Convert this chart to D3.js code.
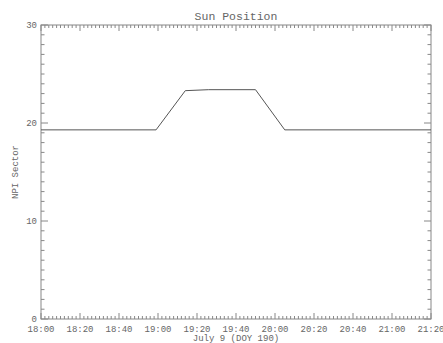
<!DOCTYPE html>
<html>
<head>
<meta charset="utf-8">
<script src="https://cdn.jsdelivr.net/npm/d3@7"></script>
<style>
  body { margin: 0; background: #fff; }
  text { font-family: "Liberation Mono", "DejaVu Sans Mono", monospace; fill: #666; }
</style>
</head>
<body>
<div id="chart"></div>
<script>
// sun position samples, minutes after 18:00 on July 9
const times = [0, 59, 74, 86, 110, 125, 200];
const sector = [19.3, 19.3, 23.3, 23.4, 23.4, 19.3, 19.3];
const xTickLabels = ['18:00', '18:20', '18:40', '19:00', '19:20', '19:40', '20:00', '20:20', '20:40', '21:00', '21:20'];
const yTickValues = [0, 10, 20, 30];

const width = 443, height = 343;
const plotLeft = 41, plotRight = 431, plotTop = 25, plotBottom = 319;

const svg = d3.select('#chart').append('svg')
    .attr('width', width)
    .attr('height', height);

const xScale = d3.scaleLinear().domain([0, 200]).range([plotLeft, plotRight]);
const yScale = d3.scaleLinear().domain([0, 30]).range([plotBottom, plotTop]);

const axisColor = '#888';
const majorX = d3.range(0, 201, 20);
const minorX = d3.range(0, 201, 2).filter(function (d) { return d % 20 !== 0; });
const majorY = yTickValues;
const minorY = d3.range(0, 31, 1).filter(function (d) { return d % 10 !== 0; });

// frame
svg.append('rect')
    .attr('x', plotLeft).attr('y', plotTop)
    .attr('width', plotRight - plotLeft).attr('height', plotBottom - plotTop)
    .attr('fill', 'none').attr('stroke', axisColor).attr('stroke-width', 1);

// ticks on all four sides
function ticks(values, len, horizontal) {
    values.forEach(function (v) {
        if (horizontal) {
            const x = xScale(v);
            svg.append('line').attr('x1', x).attr('x2', x).attr('y1', plotBottom).attr('y2', plotBottom - len)
                .attr('stroke', axisColor);
            svg.append('line').attr('x1', x).attr('x2', x).attr('y1', plotTop).attr('y2', plotTop + len)
                .attr('stroke', axisColor);
        } else {
            const y = yScale(v);
            svg.append('line').attr('x1', plotLeft).attr('x2', plotLeft + len).attr('y1', y).attr('y2', y)
                .attr('stroke', axisColor);
            svg.append('line').attr('x1', plotRight).attr('x2', plotRight - len).attr('y1', y).attr('y2', y)
                .attr('stroke', axisColor);
        }
    });
}
ticks(majorX, 6, true);
ticks(minorX, 3, true);
ticks(majorY, 7, false);
ticks(minorY, 3.5, false);

// tick labels
svg.selectAll('.xlabel')
    .data(majorX)
    .enter().append('text')
    .attr('class', 'xlabel')
    .attr('x', function (d) { return xScale(d); })
    .attr('y', 332)
    .attr('text-anchor', 'middle')
    .style('font-size', '9px')
    .text(function (d, i) { return xTickLabels[i]; });

svg.selectAll('.ylabel')
    .data(majorY)
    .enter().append('text')
    .attr('class', 'ylabel')
    .attr('x', 37)
    .attr('y', function (d) { return yScale(d) + 3; })
    .attr('text-anchor', 'end')
    .style('font-size', '9px')
    .text(function (d) { return d; });

// titles
svg.append('text')
    .attr('x', (plotLeft + plotRight) / 2).attr('y', 20)
    .attr('text-anchor', 'middle')
    .style('font-size', '11.5px')
    .text('Sun Position');

svg.append('text')
    .attr('x', (plotLeft + plotRight) / 2).attr('y', 341)
    .attr('text-anchor', 'middle')
    .style('font-size', '9px')
    .text('July 9 (DOY 190)');

svg.append('text')
    .attr('transform', `translate(18, ${(plotTop + plotBottom) / 2}) rotate(-90)`)
    .attr('text-anchor', 'middle')
    .style('font-size', '9px')
    .text('NPI Sector');

// data line
const line = d3.line()
    .x(function (d, i) { return xScale(times[i]); })
    .y(function (d) { return yScale(d); });

svg.append('path')
    .datum(sector)
    .attr('d', line)
    .attr('fill', 'none')
    .attr('stroke', '#555')
    .attr('stroke-width', 1);
</script>
</body>
</html>
